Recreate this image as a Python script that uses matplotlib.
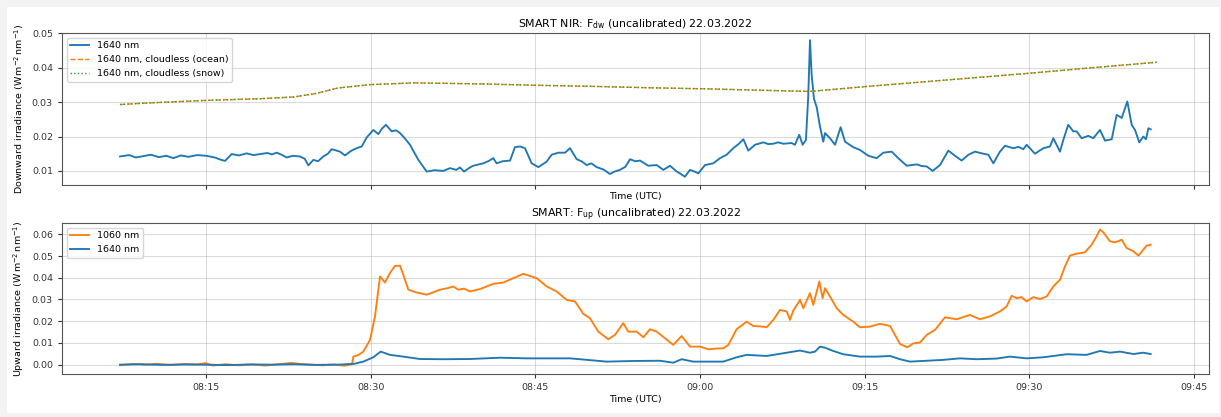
import numpy as np
import pandas as pd
import matplotlib
matplotlib.use("Agg")
import matplotlib.pyplot as plt
import matplotlib.dates as mdates
from matplotlib.patches import Rectangle

# minutes after 08:00 UTC, 22.03.2022
t_dw = [7.17, 8.0, 8.6, 9.29, 10.0, 10.7, 11.4, 12.02, 12.7, 13.4, 14.2, 15.0, 15.8, 16.3, 16.73,
        17.34, 18.0, 18.7, 19.3, 19.92, 20.6, 21.0, 21.44, 21.89, 22.35, 22.9, 23.56, 24.0, 24.32,
        24.78, 25.2, 25.69, 26.1, 26.45, 26.8, 27.2, 27.66, 28.2, 28.72, 29.18, 29.63, 30.24, 30.7,
        31.0, 31.39, 31.91, 32.3, 32.67, 33.1, 33.58, 34.34, 35.1, 35.8, 36.61, 37.22, 37.8, 38.13,
        38.5, 39.04, 39.34, 40.25, 40.7, 41.17, 41.47, 42.0, 42.69, 43.14, 43.6, 44.05, 44.66, 45.27,
        46.03, 46.48, 47.09, 47.7, 48.15, 48.76, 49.2, 49.67, 50.1, 50.58, 51.2, 51.79, 52.2, 52.7,
        53.2, 53.62, 54.1, 54.53, 55.28, 56.05, 56.65, 57.26, 57.87, 58.2, 58.62, 59.08, 59.5, 59.84,
        60.45, 61.2, 61.81, 62.42, 63.02, 63.5, 63.94, 64.39, 65.0, 65.76, 66.2, 66.67, 67.1, 67.58,
        68.34, 68.64, 69.03, 69.34, 69.64, 69.85, 70.01, 70.16, 70.37, 70.62, 70.92, 71.22, 71.38,
        71.83, 72.29, 72.8, 73.2, 73.95, 74.56, 75.32, 76.08, 76.69, 77.45, 78.05, 78.82, 79.73, 80.2,
        80.64, 81.18, 81.85, 82.61, 83.22, 83.83, 84.43, 85.04, 85.8, 86.25, 86.71, 87.31, 87.77,
        88.53, 89.0, 89.44, 89.74, 90.5, 91.26, 91.87, 92.17, 92.78, 93.08, 93.53, 93.99, 94.3, 94.75,
        95.36, 95.81, 96.42, 96.88, 97.49, 97.94, 98.4, 98.91, 99.31, 99.61, 100.0, 100.37, 100.61,
        100.83, 101.04]
fdw_1640 = [0.0142, 0.0146, 0.0139, 0.0143, 0.0147, 0.0140, 0.0144, 0.0137, 0.0145, 0.0141, 0.0146,
            0.0144, 0.0139, 0.0133, 0.0129, 0.0149, 0.0145, 0.0151, 0.0146, 0.0149, 0.0152, 0.0148,
            0.0153, 0.0147, 0.0139, 0.0144, 0.0142, 0.0135, 0.0116, 0.0132, 0.0128, 0.0142, 0.0150,
            0.0163, 0.0160, 0.0156, 0.0145, 0.0158, 0.0166, 0.0171, 0.0197, 0.0219, 0.0207, 0.0222,
            0.0234, 0.0215, 0.0218, 0.0210, 0.0195, 0.0176, 0.0132, 0.0098, 0.0102, 0.0100, 0.0108,
            0.0103, 0.0110, 0.0098, 0.0110, 0.0115, 0.0122, 0.0128, 0.0137, 0.0122, 0.0128, 0.0130,
            0.0169, 0.0171, 0.0166, 0.0122, 0.0111, 0.0127, 0.0147, 0.0153, 0.0153, 0.0166, 0.0134,
            0.0128, 0.0117, 0.0122, 0.0111, 0.0104, 0.0091, 0.0098, 0.0103, 0.0112, 0.0134, 0.0128,
            0.0130, 0.0115, 0.0117, 0.0103, 0.0115, 0.0098, 0.0092, 0.0083, 0.0103, 0.0098, 0.0093,
            0.0117, 0.0122, 0.0137, 0.0147, 0.0166, 0.0178, 0.0192, 0.0159, 0.0176, 0.0183, 0.0178,
            0.0179, 0.0183, 0.0179, 0.0181, 0.0176, 0.0205, 0.0176, 0.0190, 0.0317, 0.0480, 0.0380,
            0.0310, 0.0285, 0.0229, 0.0185, 0.0210, 0.0195, 0.0176, 0.0227, 0.0185, 0.0169, 0.0161,
            0.0144, 0.0137, 0.0153, 0.0156, 0.0137, 0.0115, 0.0119, 0.0114, 0.0113, 0.0100, 0.0117,
            0.0159, 0.0144, 0.0130, 0.0147, 0.0156, 0.0150, 0.0147, 0.0122, 0.0156, 0.0173, 0.0166,
            0.0170, 0.0163, 0.0176, 0.0150, 0.0166, 0.0171, 0.0195, 0.0156, 0.0190, 0.0234, 0.0215,
            0.0215, 0.0195, 0.0202, 0.0195, 0.0219, 0.0188, 0.0192, 0.0263, 0.0254, 0.0302, 0.0234,
            0.0219, 0.0183, 0.0200, 0.0192, 0.0224, 0.0221]

t_clear = [7.17, 10, 15, 20, 23, 25, 27, 30, 34, 40, 45, 50, 55, 60, 65, 70, 75, 80, 85, 90, 95, 101.6]
fdw_ocean = [0.0293, 0.0298, 0.0305, 0.0310, 0.0315, 0.0325, 0.0341, 0.0351, 0.0356, 0.0353, 0.0349,
             0.0346, 0.0342, 0.0339, 0.0335, 0.0331, 0.0345, 0.0358, 0.0371, 0.0384, 0.0398, 0.0416]
fdw_snow = [0.0293, 0.0298, 0.0305, 0.0310, 0.0315, 0.0325, 0.0341, 0.0351, 0.0356, 0.0353, 0.0349,
            0.0346, 0.0342, 0.0339, 0.0335, 0.0331, 0.0345, 0.0358, 0.0371, 0.0384, 0.0398, 0.0416]

t_up_1060 = [7.17, 8.3, 9.5, 10.6, 11.8, 13.0, 14.2, 15.0, 15.6, 16.8, 18.0, 19.2, 20.4, 21.6, 22.8,
             23.6, 24.6, 25.6, 26.6, 27.6, 28.3, 28.42, 28.9, 29.33, 29.94, 30.39, 30.85, 31.3, 31.76,
             32.21, 32.67, 32.97, 33.43, 34.19, 35.1, 35.7, 36.31, 37.0, 37.52, 37.98, 38.5, 39.04,
             39.95, 41.17, 42.08, 42.99, 43.9, 44.5, 45.12, 46.03, 46.94, 47.85, 48.61, 49.36, 49.97,
             50.73, 51.64, 52.25, 53.0, 53.46, 54.23, 54.83, 55.44, 56.05, 56.8, 57.56, 58.32, 59.08,
             59.99, 60.75, 61.5, 62.11, 62.57, 63.33, 64.24, 64.85, 65.5, 66.06, 66.67, 67.28, 67.89,
             68.19, 68.49, 69.1, 69.4, 70.01, 70.31, 70.62, 70.86, 71.16, 71.38, 71.83, 72.44, 73.04,
             73.95, 74.56, 75.47, 76.38, 77.3, 77.75, 78.21, 78.88, 79.42, 80.03, 80.64, 81.4, 82.31,
             83.37, 84.58, 85.49, 86.4, 87.31, 87.92, 88.38, 88.83, 89.29, 89.74, 90.35, 90.96, 91.57,
             92.17, 92.78, 93.23, 93.69, 94.3, 95.05, 95.66, 96.12, 96.42, 96.73, 97.33, 97.79, 98.4,
             98.85, 99.46, 99.92, 100.37, 100.68, 101.04]
fup_1060 = [-0.0003, 0.0003, 0.0000, 0.0004, -0.0002, 0.0003, 0.0001, 0.0007, -0.0004, 0.0002, -0.0003,
            0.0001, -0.0004, 0.0002, 0.0008, 0.0003, 0.0000, -0.0003, 0.0001, -0.0005, 0.0002, 0.0037,
            0.0045, 0.0060, 0.0114, 0.0222, 0.0406, 0.0378, 0.0422, 0.0455, 0.0455, 0.0414, 0.0345,
            0.0332, 0.0322, 0.0333, 0.0345, 0.0352, 0.0360, 0.0345, 0.0350, 0.0337, 0.0348, 0.0372,
            0.0378, 0.0398, 0.0418, 0.0408, 0.0398, 0.0360, 0.0337, 0.0298, 0.0291, 0.0234, 0.0214,
            0.0152, 0.0117, 0.0137, 0.0191, 0.0152, 0.0152, 0.0126, 0.0163, 0.0152, 0.0122, 0.0091,
            0.0132, 0.0083, 0.0083, 0.0071, 0.0074, 0.0075, 0.0091, 0.0163, 0.0198, 0.0178, 0.0176,
            0.0172, 0.0206, 0.0252, 0.0245, 0.0206, 0.0249, 0.0298, 0.0260, 0.0329, 0.0275, 0.0337,
            0.0383, 0.0306, 0.0352, 0.0314, 0.0260, 0.0229, 0.0198, 0.0172, 0.0175, 0.0188, 0.0178,
            0.0137, 0.0095, 0.0080, 0.0098, 0.0102, 0.0137, 0.0160, 0.0218, 0.0209, 0.0229, 0.0209,
            0.0222, 0.0245, 0.0268, 0.0317, 0.0306, 0.0311, 0.0291, 0.0311, 0.0302, 0.0314, 0.0360,
            0.0391, 0.0452, 0.0502, 0.0511, 0.0517, 0.0552, 0.0591, 0.0622, 0.0609, 0.0568, 0.0563,
            0.0575, 0.0537, 0.0522, 0.0502, 0.0529, 0.0548, 0.0552]

t_up_1640 = [7.17, 9, 11, 13, 15, 17, 19, 21, 23, 25, 27, 28.5, 29.33, 30.24, 30.91, 31.76, 32.97,
             34.49, 36.61, 39.04, 41.78, 44.2, 48.15, 51.49, 54, 56.35, 57.56, 58.32, 59.38, 62.11,
             63.33, 64.24, 66.06, 67.89, 69.1, 70.0, 70.47, 70.92, 71.38, 72.13, 73.04, 74.56, 76.08,
             77.3, 78.21, 79.12, 80.64, 82.15, 83.67, 85.19, 87.01, 88.22, 89.74, 91.26, 93.39, 95.2,
             96.42, 97.33, 98.25, 99.46, 100.37, 101.04]
fup_1640 = [0.0000, 0.0002, -0.0001, 0.0001, 0.0000, -0.0002, 0.0001, 0.0000, 0.0002, -0.0001, 0.0000,
            0.0004, 0.0014, 0.0034, 0.0060, 0.0045, 0.0037, 0.0026, 0.0025, 0.0026, 0.0032, 0.0029,
            0.0029, 0.0014, 0.0017, 0.0018, 0.0009, 0.0025, 0.0014, 0.0014, 0.0034, 0.0045, 0.0040,
            0.0055, 0.0065, 0.0055, 0.0060, 0.0083, 0.0078, 0.0063, 0.0048, 0.0037, 0.0037, 0.0040,
            0.0025, 0.0014, 0.0018, 0.0022, 0.0029, 0.0025, 0.0028, 0.0037, 0.0029, 0.0034, 0.0048,
            0.0045, 0.0063, 0.0055, 0.0060, 0.0049, 0.0055, 0.0049]

base = pd.Timestamp("2022-03-22 08:00")


def to_time(minutes):
    return base + pd.to_timedelta(np.array(minutes), unit="min")


plt.rcParams['font.family'] = ['DejaVu Sans']
fs = 6.8

fig = plt.figure(figsize=(12.21, 4.17), dpi=100, facecolor='#f3f3f3')
fig.patches.append(Rectangle((7 / 1221, 4 / 417), 1212 / 1221, 406 / 417, transform=fig.transFigure,
                             facecolor='white', edgecolor='none', zorder=-1))

ax1 = fig.add_axes([62 / 1221, 1 - 185 / 417, 1147 / 1221, 152 / 417])
ax2 = fig.add_axes([62 / 1221, 1 - 374 / 417, 1147 / 1221, 151 / 417], sharex=ax1)

ax1.plot(to_time(t_dw), fdw_1640, color='#1f77b4', lw=1.35, label='1640 nm')
ax1.plot(to_time(t_clear), fdw_ocean, color='#ff7f0e', lw=1.0, ls='--', label='1640 nm, cloudless (ocean)')
ax1.plot(to_time(t_clear), fdw_snow, color='#2ca02c', lw=1.0, ls=':', label='1640 nm, cloudless (snow)')
ax1.set_ylim(0.0059, 0.0501)
ax1.set_yticks([0.01, 0.02, 0.03, 0.04, 0.05])
ax1.set_title(r'SMART NIR: F$_{\mathrm{dw}}$ (uncalibrated) 22.03.2022', fontsize=7.9, pad=4)
ax1.set_ylabel(r'Downward irradiance (W$\,$m$^{-2}\,$nm$^{-1}$)', fontsize=fs)
ax1.set_xlabel('Time (UTC)', fontsize=fs, labelpad=2)
ax1.tick_params(labelbottom=False)
ax1.legend(loc='upper left', fontsize=fs)

ax2.plot(to_time(t_up_1060), fup_1060, color='#ff7f0e', lw=1.35, label='1060 nm')
ax2.plot(to_time(t_up_1640), fup_1640, color='#1f77b4', lw=1.35, label='1640 nm')
ax2.set_ylim(-0.0043, 0.0652)
ax2.set_yticks([0.0, 0.01, 0.02, 0.03, 0.04, 0.05, 0.06])
ax2.set_title(r'SMART: F$_{\mathrm{up}}$ (uncalibrated) 22.03.2022', fontsize=7.9, pad=4)
ax2.set_ylabel(r'Upward irradiance (W$\,$m$^{-2}\,$nm$^{-1}$)', fontsize=fs)
ax2.set_xlabel('Time (UTC)', fontsize=fs, labelpad=2)
ax2.legend(loc='upper left', fontsize=fs)

ax2.set_xlim(base + pd.Timedelta(minutes=1.885), base + pd.Timedelta(minutes=106.35))
ax2.xaxis.set_major_locator(mdates.MinuteLocator(byminute=[0, 15, 30, 45]))
ax2.xaxis.set_major_formatter(mdates.DateFormatter('%H:%M'))

for ax in (ax1, ax2):
    ax.grid(True, color='#b0b0b0', alpha=0.45, lw=0.8)
    ax.tick_params(labelsize=fs, colors='#333333', length=3)
    for s in ax.spines.values():
        s.set_color('#555555')

fig.savefig('out.png', dpi=100, facecolor=fig.get_facecolor())
